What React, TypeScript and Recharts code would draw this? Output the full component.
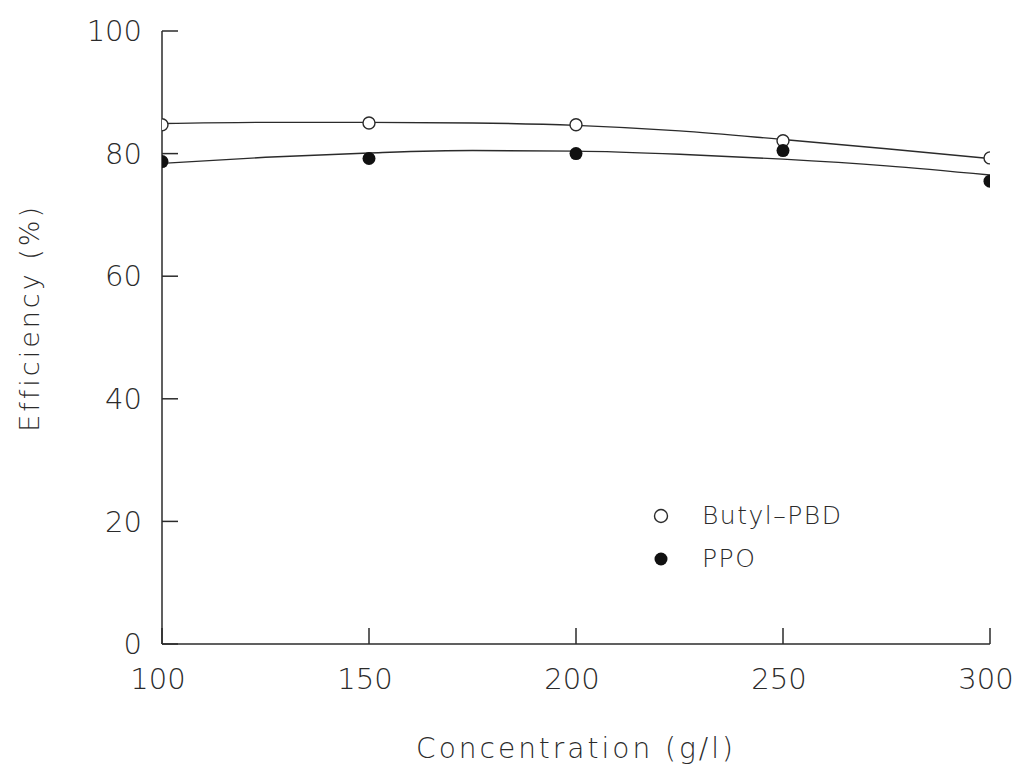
import React from 'react';
import { ComposedChart, Line, Scatter, XAxis, YAxis, Label } from 'recharts';

// measured efficiencies
const concentrations = [100, 150, 200, 250, 300];
const butylPbd = [84.7, 85.0, 84.7, 82.1, 79.3];
const ppo = [78.7, 79.2, 80.0, 80.5, 75.5];

// fitted curves
const fitConcentrations = [100, 125, 150, 175, 200, 225, 250, 275, 300];
const butylFit = [84.9, 85.1, 85.1, 85.0, 84.6, 83.7, 82.3, 80.8, 79.2];
const ppoFit = [78.4, 79.4, 80.1, 80.5, 80.4, 79.9, 79.1, 78.0, 76.5];

const xTicks = [100, 150, 200, 250, 300];
const yTicks = [0, 20, 40, 60, 80, 100];

const seriesNames = ['Butyl\u2013PBD', 'PPO'];

const INK = '#2b2b2b';
const FONT = '"DejaVu Sans", sans-serif';

const butylPoints = concentrations.map((c, i) => ({ c, v: butylPbd[i] }));
const ppoPoints = concentrations.map((c, i) => ({ c, v: ppo[i] }));
const butylCurve = fitConcentrations.map((c, i) => ({ c, v: butylFit[i] }));
const ppoCurve = fitConcentrations.map((c, i) => ({ c, v: ppoFit[i] }));

const OpenDot = (p: any) => (
  <circle cx={p.cx} cy={p.cy} r={6} fill="#fff" stroke={INK} strokeWidth={1.4} />
);
const FilledDot = (p: any) => <circle cx={p.cx} cy={p.cy} r={6.5} fill="#111" />;

const YTitle = (props: any) => {
  const { x, y, height } = props.viewBox;
  const cx = x + 30;
  const cy = y + height * 0.468;
  return (
    <text
      x={cx}
      y={cy}
      transform={`rotate(-90, ${cx}, ${cy})`}
      textAnchor="middle"
      dominantBaseline="central"
      fill={INK}
      fontSize={27}
      fontFamily={FONT}
      fontWeight={200}
      letterSpacing={3}
    >
      Efficiency (%)
    </text>
  );
};

export default function App() {
  return (
    <div style={{ position: 'absolute', left: 0, top: 0, width: 1021, height: 769, background: '#fff' }}>
      <ComposedChart
        width={1021}
        height={769}
        margin={{ top: 31, right: 31, bottom: 0, left: 0 }}
      >
        <XAxis
          type="number"
          dataKey="c"
          domain={[100, 300]}
          ticks={xTicks}
          allowDataOverflow
          height={125}
          stroke={INK}
          strokeWidth={1.5}
          tickSize={-16}
          tickMargin={40}
          tick={{ fill: INK, fontSize: 29, fontFamily: FONT, fontWeight: 200, dx: -4 }}
        >
          <Label
            value="Concentration (g/l)"
            position="insideBottom"
            offset={11}
            style={{ fill: INK, fontSize: 28, fontFamily: FONT, fontWeight: 200, letterSpacing: 3 }}
          />
        </XAxis>
        <YAxis
          type="number"
          dataKey="v"
          domain={[0, 100]}
          ticks={yTicks}
          width={162}
          stroke={INK}
          strokeWidth={1.5}
          tickSize={-16}
          tickMargin={36}
          tick={{ fill: INK, fontSize: 29, fontFamily: FONT, fontWeight: 200 }}
        >
          <Label content={YTitle} />
        </YAxis>
        <Line data={butylCurve} dataKey="v" type="monotone" stroke={INK} strokeWidth={1.4} dot={false} isAnimationActive={false} />
        <Line data={ppoCurve} dataKey="v" type="monotone" stroke={INK} strokeWidth={1.4} dot={false} isAnimationActive={false} />
        <Scatter data={butylPoints} dataKey="v" shape={OpenDot} isAnimationActive={false} />
        <Scatter data={ppoPoints} dataKey="v" shape={FilledDot} isAnimationActive={false} />
      </ComposedChart>
      <div
        style={{
          position: 'absolute',
          left: 650,
          top: 494,
          fontFamily: FONT,
          fontSize: 25,
          color: INK,
          fontWeight: 200,
          letterSpacing: 1.5,
        }}
      >
        {seriesNames.map((name, i) => (
          <div key={name} style={{ display: 'flex', alignItems: 'center', height: 43 }}>
            <svg width={52} height={20}>
              {i === 0 ? (
                <circle cx={11} cy={10} r={6.5} fill="#fff" stroke={INK} strokeWidth={1.4} />
              ) : (
                <circle cx={11} cy={10} r={6.5} fill="#111" />
              )}
            </svg>
            <span>{name}</span>
          </div>
        ))}
      </div>
    </div>
  );
}
